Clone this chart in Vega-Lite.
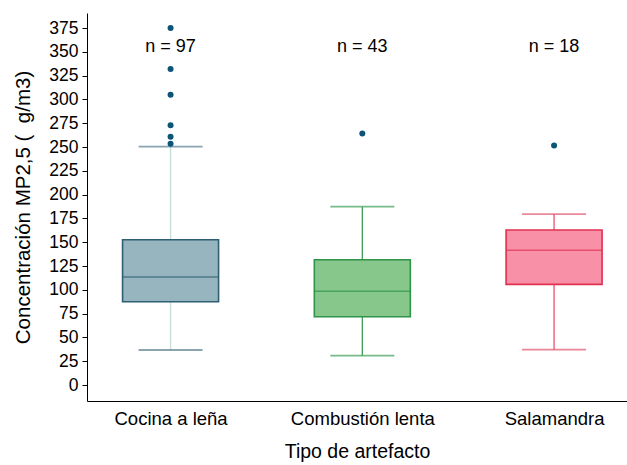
{
  "$schema": "https://vega.github.io/schema/vega-lite/v6.json",
  "autosize": {"type": "none"},
  "padding": {"left": 87, "top": 13, "right": 0, "bottom": 64},
  "width": 540,
  "height": 388,
  "config": {
    "font": "Liberation Sans",
    "view": {"stroke": null},
    "axis": {"domainColor": "#000000", "tickColor": "#000000", "labelColor": "#000000", "titleColor": "#000000", "titleFontWeight": "normal", "grid": false},
    "axisY": {"labelOverlap": false, "tickSize": 5, "labelFontSize": 17.5, "titleFontSize": 20.5, "labelPadding": 4, "titlePadding": 15}
  },
  "datasets": {
    "stats": [
      {"tipo": "Cocina a leña", "lower": 36.8, "q1": 87.5, "median": 113.4, "q3": 152.6, "upper": 250.4, "n": "n = 97", "ny": 355.5},
      {"tipo": "Combustión lenta", "lower": 30.8, "q1": 71.7, "median": 98.4, "q3": 131.6, "upper": 187.3, "n": "n = 43", "ny": 355.5},
      {"tipo": "Salamandra", "lower": 37.1, "q1": 105.7, "median": 141.5, "q3": 162.8, "upper": 179.6, "n": "n = 18", "ny": 355.5}
    ],
    "outliers": [
      {"tipo": "Cocina a leña", "valor": 375},
      {"tipo": "Cocina a leña", "valor": 332},
      {"tipo": "Cocina a leña", "valor": 305},
      {"tipo": "Cocina a leña", "valor": 272.8},
      {"tipo": "Cocina a leña", "valor": 260.8},
      {"tipo": "Cocina a leña", "valor": 253.5},
      {"tipo": "Combustión lenta", "valor": 264.3},
      {"tipo": "Salamandra", "valor": 251.7}
    ]
  },
  "encoding": {
    "x": {
      "field": "tipo", "type": "nominal",
      "sort": ["Cocina a leña", "Combustión lenta", "Salamandra"],
      "scale": {"type": "point", "padding": 0.408, "align": 0.534},
      "axis": {"title": "Tipo de artefacto", "labelAngle": 0, "ticks": false, "labelFontSize": 18.5, "titleFontSize": 19.5, "labelPadding": 8, "titlePadding": 15}
    }
  },
  "layer": [
    {
      "data": {"name": "stats"},
      "mark": {"type": "rule", "strokeWidth": 1.3},
      "encoding": {
        "y": {"field": "lower", "type": "quantitative",
          "scale": {"domain": [-16.8, 390.8], "nice": false, "zero": false},
          "axis": {"title": "Concentración MP2,5 (\u00a0\u00a0g/m3)", "values": [0,25,50,75,100,125,150,175,200,225,250,275,300,325,350,375], "labelOverlap": false}},
        "y2": {"field": "q1"},
        "color": {"field": "tipo", "type": "nominal", "legend": null,
          "scale": {"domain": ["Cocina a leña", "Combustión lenta", "Salamandra"], "range": ["#c6dbda", "#3d9e55", "#e4546e"]}}
      }
    },
    {
      "data": {"name": "stats"},
      "mark": {"type": "rule", "strokeWidth": 1.3},
      "encoding": {
        "y": {"field": "q3", "type": "quantitative",
          "axis": {"title": "Concentración MP2,5 (\u00a0\u00a0g/m3)", "values": [0,25,50,75,100,125,150,175,200,225,250,275,300,325,350,375], "labelOverlap": false}},
        "y2": {"field": "upper"},
        "color": {"field": "tipo", "type": "nominal", "legend": null,
          "scale": {"domain": ["Cocina a leña", "Combustión lenta", "Salamandra"], "range": ["#c6dbda", "#3d9e55", "#e4546e"]}}
      }
    },
    {
      "data": {"name": "stats"},
      "mark": {"type": "tick", "size": 64, "thickness": 1.8, "orient": "horizontal"},
      "encoding": {
        "y": {"field": "lower", "type": "quantitative",
          "axis": {"title": "Concentración MP2,5 (\u00a0\u00a0g/m3)", "values": [0,25,50,75,100,125,150,175,200,225,250,275,300,325,350,375], "labelOverlap": false}},
        "color": {"field": "tipo", "type": "nominal", "legend": null,
          "scale": {"domain": ["Cocina a leña", "Combustión lenta", "Salamandra"], "range": ["#587f8d", "#3d9e55", "#e4546e"]}}
      }
    },
    {
      "data": {"name": "stats"},
      "mark": {"type": "tick", "size": 64, "thickness": 1.8, "orient": "horizontal"},
      "encoding": {
        "y": {"field": "upper", "type": "quantitative",
          "axis": {"title": "Concentración MP2,5 (\u00a0\u00a0g/m3)", "values": [0,25,50,75,100,125,150,175,200,225,250,275,300,325,350,375], "labelOverlap": false}},
        "color": {"field": "tipo", "type": "nominal", "legend": null,
          "scale": {"domain": ["Cocina a leña", "Combustión lenta", "Salamandra"], "range": ["#587f8d", "#3d9e55", "#e4546e"]}}
      }
    },
    {
      "data": {"name": "stats"},
      "mark": {"type": "bar", "size": 96, "strokeWidth": 1.6},
      "encoding": {
        "y": {"field": "q1", "type": "quantitative",
          "axis": {"title": "Concentración MP2,5 (\u00a0\u00a0g/m3)", "values": [0,25,50,75,100,125,150,175,200,225,250,275,300,325,350,375], "labelOverlap": false}},
        "y2": {"field": "q3"},
        "fill": {"field": "tipo", "type": "nominal", "legend": null,
          "scale": {"domain": ["Cocina a leña", "Combustión lenta", "Salamandra"], "range": ["#97b5bf", "#87c78b", "#f891a8"]}},
        "stroke": {"field": "tipo", "type": "nominal", "legend": null,
          "scale": {"domain": ["Cocina a leña", "Combustión lenta", "Salamandra"], "range": ["#2e5e71", "#2e9448", "#e0304f"]}}
      }
    },
    {
      "data": {"name": "stats"},
      "mark": {"type": "tick", "size": 96, "thickness": 1.5, "orient": "horizontal"},
      "encoding": {
        "y": {"field": "median", "type": "quantitative",
          "axis": {"title": "Concentración MP2,5 (\u00a0\u00a0g/m3)", "values": [0,25,50,75,100,125,150,175,200,225,250,275,300,325,350,375], "labelOverlap": false}},
        "color": {"field": "tipo", "type": "nominal", "legend": null,
          "scale": {"domain": ["Cocina a leña", "Combustión lenta", "Salamandra"], "range": ["#2e5e71", "#2e9448", "#e0304f"]}}
      }
    },
    {
      "data": {"name": "outliers"},
      "mark": {"type": "circle", "size": 36, "opacity": 1, "color": "#0d5577"},
      "encoding": {
        "y": {"field": "valor", "type": "quantitative",
          "axis": {"title": "Concentración MP2,5 (\u00a0\u00a0g/m3)", "values": [0,25,50,75,100,125,150,175,200,225,250,275,300,325,350,375], "labelOverlap": false}}
      }
    },
    {
      "data": {"name": "stats"},
      "mark": {"type": "text", "fontSize": 18, "baseline": "middle", "align": "center", "color": "#000000"},
      "encoding": {
        "y": {"field": "ny", "type": "quantitative",
          "axis": {"title": "Concentración MP2,5 (\u00a0\u00a0g/m3)", "values": [0,25,50,75,100,125,150,175,200,225,250,275,300,325,350,375], "labelOverlap": false}},
        "text": {"field": "n"}
      }
    }
  ],
  "resolve": {"scale": {"color": "independent"}}
}
